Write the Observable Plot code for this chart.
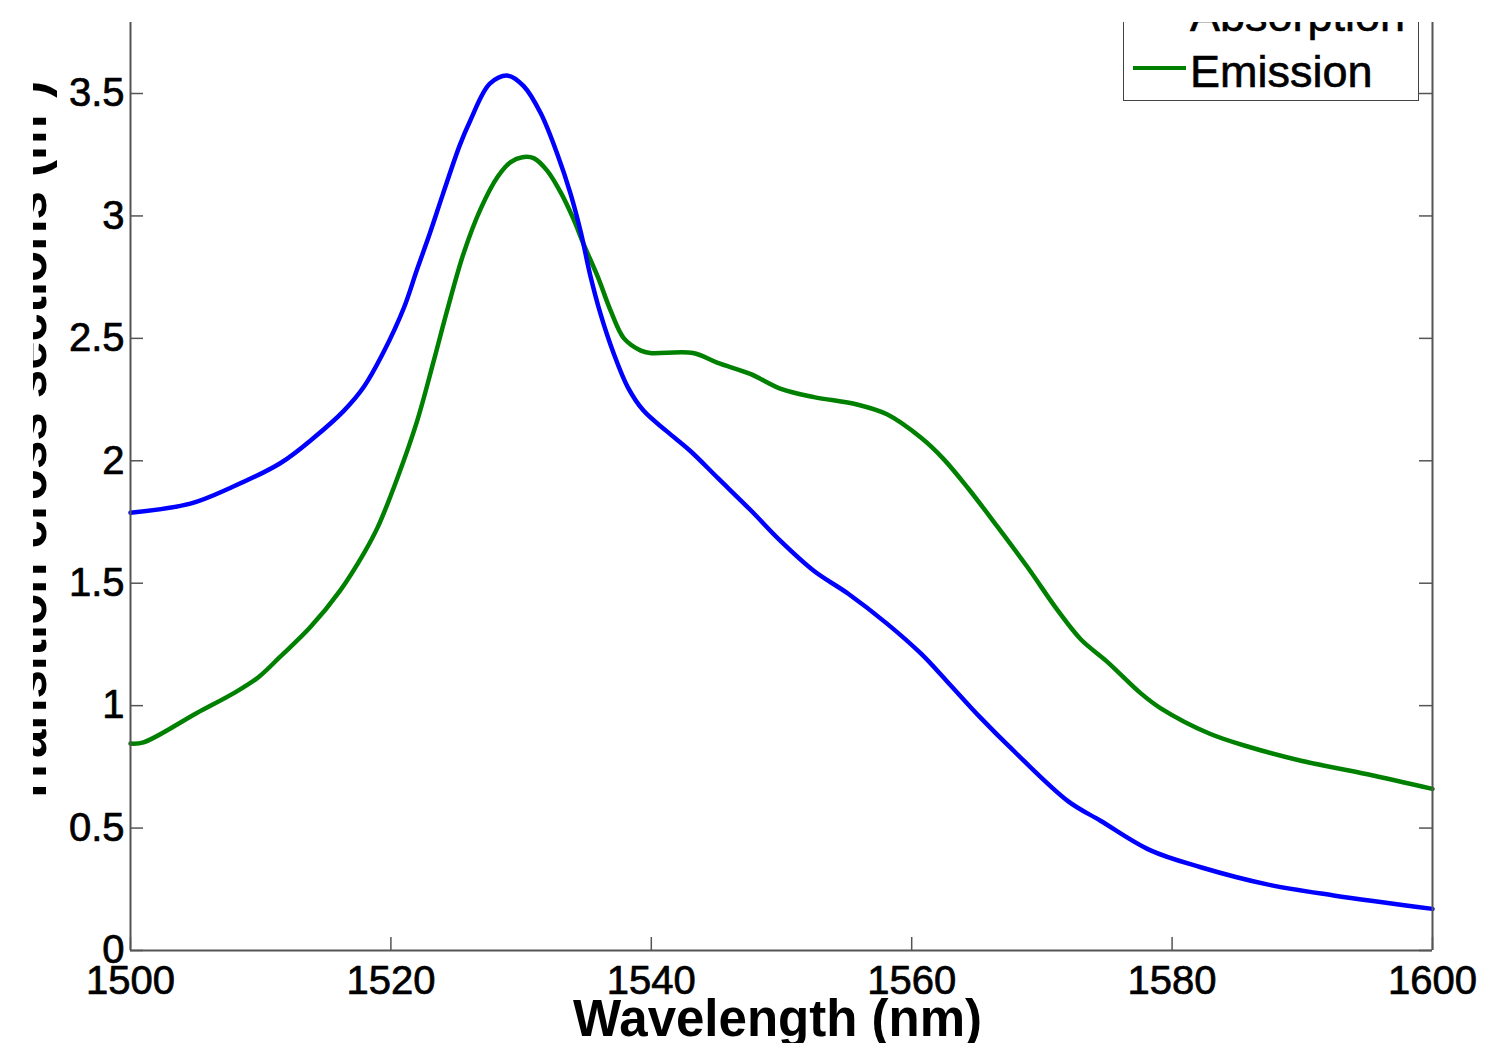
<!DOCTYPE html>
<html><head><meta charset="utf-8">
<script src="https://cdn.jsdelivr.net/npm/d3@7"></script>
<script src="https://cdn.jsdelivr.net/npm/@observablehq/plot@0.6"></script>
<style>
html,body{margin:0;padding:0;background:#fff;}
#wrap{position:absolute;left:33px;top:22px;width:1453px;height:1021px;overflow:hidden;background:#fff;}
#legend{position:absolute;left:1090px;top:-35px;width:296px;box-sizing:border-box;border:1.5px solid #444;background:#fff;font-family:"Liberation Sans",Arial,sans-serif;font-size:45px;color:#000;-webkit-text-stroke:0.6px #000;}
.row{display:flex;align-items:center;height:56px;white-space:nowrap;}
.sw{width:53px;height:4px;margin-left:9px;margin-right:4px;position:relative;top:-4px;}
</style></head><body><div id="wrap"></div>
<script>
// Data
const absWl  = [1500, 1504.6, 1507.7, 1511.5, 1514.1, 1516.4, 1517.9, 1519.4, 1521.0, 1522.0, 1523.0, 1524.0, 1525.3, 1526.1, 1527.6, 1529.0, 1530.2, 1531.5, 1532.8, 1533.8, 1534.6, 1535.3, 1536.1, 1537.1, 1538.2, 1539.4, 1541.2, 1543.0, 1545.1, 1547.6, 1549.9, 1552.5, 1555.1, 1558.1, 1560.7, 1562.7, 1565.3, 1567.8, 1572.0, 1574.5, 1578.3, 1582.2, 1587.3, 1592.4, 1600];
const absVal = [1.788, 1.825, 1.89, 1.99, 2.095, 2.205, 2.30, 2.44, 2.625, 2.78, 2.93, 3.09, 3.29, 3.39, 3.54, 3.573, 3.53, 3.42, 3.25, 3.09, 2.93, 2.76, 2.60, 2.44, 2.30, 2.205, 2.12, 2.04, 1.93, 1.80, 1.674, 1.55, 1.458, 1.335, 1.213, 1.10, 0.95, 0.817, 0.61, 0.53, 0.41, 0.34, 0.27, 0.225, 0.17];
const emiWl  = [1500, 1501, 1505.1, 1507.9, 1509.8, 1511.5, 1513.8, 1516.1, 1517.9, 1519.0, 1520.5, 1522.0, 1523.3, 1524.3, 1525.6, 1526.9, 1528.2, 1529.2, 1530.1, 1531.0, 1532.0, 1533.0, 1534.0, 1534.8, 1535.9, 1536.9, 1537.9, 1539.2, 1539.9, 1543.2, 1545.1, 1547.6, 1549.9, 1552.5, 1555.8, 1558.1, 1560.7, 1562.4, 1564.3, 1566.6, 1568.9, 1571.2, 1573.0, 1575.0, 1577.6, 1579.1, 1582.9, 1586.0, 1589.9, 1595.0, 1600];
const emiVal = [0.845, 0.85, 0.97, 1.05, 1.115, 1.20, 1.32, 1.47, 1.62, 1.73, 1.93, 2.16, 2.41, 2.61, 2.85, 3.03, 3.16, 3.22, 3.24, 3.235, 3.185, 3.10, 2.99, 2.885, 2.75, 2.61, 2.50, 2.45, 2.44, 2.44, 2.40, 2.355, 2.295, 2.26, 2.23, 2.19, 2.095, 2.01, 1.89, 1.73, 1.565, 1.39, 1.27, 1.18, 1.05, 0.99, 0.885, 0.83, 0.775, 0.72, 0.66];
const xTicks = [1500, 1520, 1540, 1560, 1580, 1600];
const yTicks = [0, 0.5, 1, 1.5, 2, 2.5, 3, 3.5];
const seriesNames = ["Absorption", "Emission"];
const seriesColors = ["#0000ff", "#008000"];
const xLabel = "Wavelength (nm)";
const yLabel = "Transition cross sections (m²)";

const absorption = absWl.map((w, i) => ({wl: w, v: absVal[i]}));
const emission = emiWl.map((w, i) => ({wl: w, v: emiVal[i]}));

const W = 1453, H = 1021, ML = 97, MR = 54, MT = 0, MB = 93;
const pw = W - ML - MR, ph = H - MT - MB, tl = 13;
const axisColor = "#555";

const chart = Plot.plot({
  width: W, height: H,
  marginLeft: ML, marginRight: MR, marginTop: MT, marginBottom: MB,
  style: {fontFamily: '"Liberation Sans", Arial, sans-serif', fontSize: "40px", background: "#fff", color: "#000", overflow: "hidden"},
  x: {domain: [1500, 1600], label: null},
  y: {domain: [0, 3.79], label: null},
  marks: [
    Plot.lineY(emission, {x: "wl", y: "v", stroke: seriesColors[1], strokeWidth: 4.5, curve: "catmull-rom"}),
    Plot.lineY(absorption, {x: "wl", y: "v", stroke: seriesColors[0], strokeWidth: 4.5, curve: "catmull-rom"}),
    Plot.tickY(yTicks, {y: d => d, insetRight: pw - tl, stroke: axisColor, strokeWidth: 1.5}),
    Plot.tickY(yTicks, {y: d => d, insetLeft: pw - tl, stroke: axisColor, strokeWidth: 1.5}),
    Plot.tickX(xTicks, {x: d => d, insetTop: ph - tl, stroke: axisColor, strokeWidth: 1.5}),
    Plot.ruleX([1500, 1600], {stroke: axisColor, strokeWidth: 2}),
    Plot.ruleY([0], {stroke: axisColor, strokeWidth: 2}),
    Plot.axisX(xTicks, {tickSize: 0, tickPadding: 15, tickFormat: d => String(d), fontSize: 40, textStroke: "#000", textStrokeWidth: 0.7}),
    Plot.axisY(yTicks, {tickSize: 0, tickPadding: 6, tickFormat: d => String(d), fontSize: 40, textStroke: "#000", textStrokeWidth: 0.7}),
    Plot.text([xLabel], {text: d => d, frameAnchor: "bottom", dy: 85, dx: -4, lineAnchor: "bottom", fontSize: 51, fontWeight: "bold"}),
    Plot.text([yLabel], {text: d => d, frameAnchor: "left", textAnchor: "middle", dx: -85, dy: -43, rotate: -90, lineAnchor: "bottom", fontSize: 51, fontWeight: "bold"})
  ]
});
const wrap = document.getElementById("wrap");
wrap.appendChild(chart);

const legend = document.createElement("div");
legend.id = "legend";
seriesNames.forEach((name, i) => {
  const row = document.createElement("div");
  row.className = "row";
  const sw = document.createElement("span");
  sw.className = "sw";
  sw.style.background = seriesColors[i];
  const label = document.createElement("span");
  label.textContent = name;
  row.appendChild(sw);
  row.appendChild(label);
  legend.appendChild(row);
});
wrap.appendChild(legend);
</script>
</body></html>
